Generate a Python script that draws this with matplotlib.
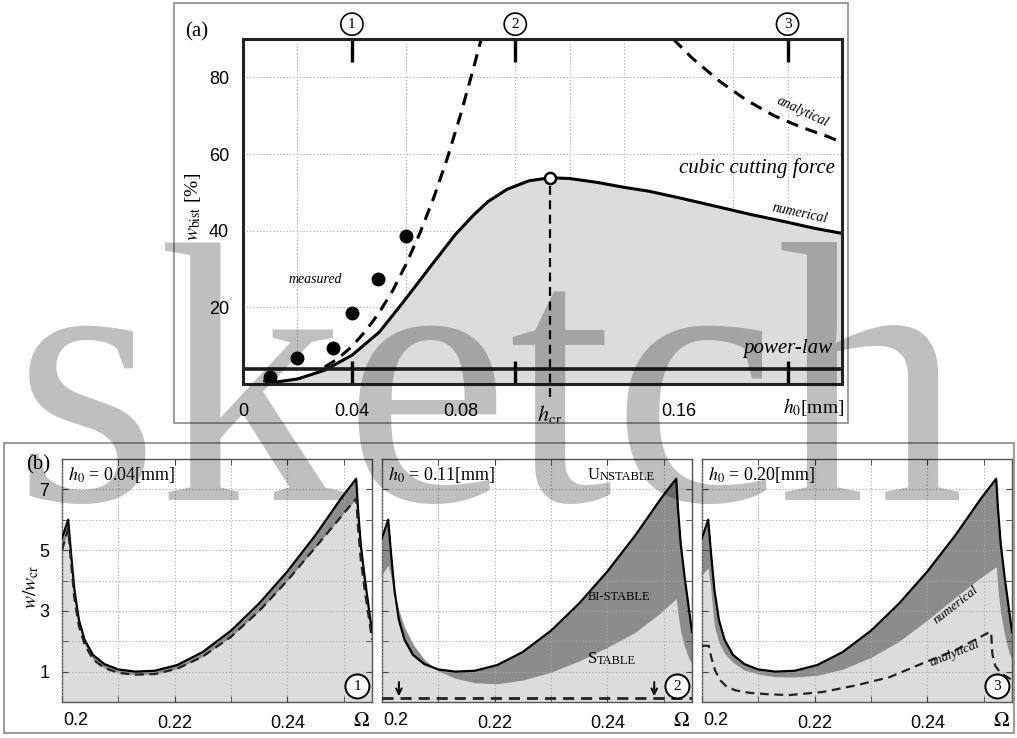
import matplotlib.pyplot as plt
import matplotlib.patches as mpatches
import numpy as np

plt.rcParams['mathtext.fontset'] = 'stix'
SERIF = ['Liberation Serif', 'DejaVu Serif']
SANS = ['Liberation Sans', 'DejaVu Sans']

W, H = 1017, 738

# ---- (a) bistable amplitude vs. chip thickness ----
h_num = [0.008, 0.012, 0.02, 0.03, 0.04, 0.05, 0.059, 0.0687, 0.078, 0.0846, 0.09, 0.097,
         0.105, 0.1127, 0.12, 0.13, 0.14, 0.149, 0.16, 0.174, 0.186, 0.198, 0.21, 0.22]
w_num = [0.8, 0.5, 1.3, 3.6, 7.5, 13.5, 21.5, 30.5, 39.0, 44.0, 47.6, 50.8,
         53.0, 53.8, 53.6, 52.6, 51.3, 50.3, 48.6, 46.3, 44.3, 42.5, 40.6, 39.3]
h_ana_lo = [0.030, 0.035, 0.040, 0.045, 0.050, 0.055, 0.060, 0.065, 0.070, 0.075, 0.080, 0.0845, 0.0875]
w_ana_lo = [4.4, 6.7, 9.8, 13.8, 18.6, 24.4, 31.4, 39.4, 48.5, 58.8, 70.5, 82.0, 90.0]
h_ana_hi = [0.158, 0.165, 0.175, 0.185, 0.195, 0.205, 0.215, 0.22]
w_ana_hi = [90.0, 85.0, 79.0, 74.0, 70.0, 67.0, 64.5, 63.0]
h_meas = [0.01, 0.02, 0.033, 0.04, 0.0496, 0.06]
w_meas = [1.8, 6.7, 9.4, 18.5, 27.5, 38.5]
w_power = 4.0
h_cr, w_cr_peak = 0.1127, 53.8
h_marks = [0.04, 0.10, 0.20]
mark_names = ['1', '2', '3']

# ---- (b) stability charts ----
omega = [0.2000, 0.2011, 0.2016, 0.2022, 0.2030, 0.2040, 0.2055, 0.2075, 0.2100, 0.2130, 0.2165, 0.2205,
         0.2250, 0.2300, 0.2350, 0.2400, 0.2450, 0.2495, 0.2522, 0.2525, 0.2530, 0.2537, 0.2545, 0.2550]
w_upper = [5.4, 6.0, 4.9, 3.7, 2.7, 2.05, 1.55, 1.25, 1.07, 1.0, 1.03, 1.22,
           1.65, 2.35, 3.25, 4.3, 5.5, 6.7, 7.35, 6.4, 5.2, 4.1, 3.0, 2.3]
w_lower_004 = [5.0, 5.7, 4.6, 3.4, 2.5, 1.9, 1.4, 1.12, 0.96, 0.9, 0.92, 1.1,
               1.5, 2.15, 3.0, 4.0, 5.1, 6.1, 6.7, 5.8, 4.7, 3.7, 2.7, 2.05]
w_lower_011 = [4.2, 4.5, 4.1, 3.6, 3.0, 2.45, 1.9, 1.4, 1.02, 0.78, 0.63, 0.6,
               0.72, 0.98, 1.35, 1.8, 2.3, 2.95, 3.4, 2.9, 2.3, 1.8, 1.4, 1.25]
w_lower_020 = [4.2, 4.4, 3.6, 2.5, 1.95, 1.6, 1.3, 1.05, 0.92, 0.83, 0.82, 0.88,
               1.08, 1.47, 2.0, 2.7, 3.45, 4.1, 4.45, 3.7, 2.9, 2.2, 1.6, 1.4]
omega_an_020 = [0.2000, 0.2012, 0.2016, 0.2023, 0.2032, 0.2044, 0.2060, 0.2085, 0.2120, 0.2156,
                0.2214, 0.2274, 0.2333, 0.2391, 0.2451, 0.2510, 0.2513, 0.2515, 0.2520, 0.2530, 0.2548]
w_an_020 = [1.85, 1.85, 1.5, 1.05, 0.72, 0.5, 0.38, 0.3, 0.25, 0.23,
            0.33, 0.55, 0.82, 1.27, 1.72, 2.3, 2.3, 1.6, 1.2, 0.95, 0.75]
omega_an_011 = [0.2000, 0.2550]
w_an_011 = [0.12, 0.12]
panel_titles = ['0.04', '0.11', '0.20']

LIGHT = '#dcdcdc'
DARK = '#8c8c8c'
GRIDC = '#a8a8a8'


def fig_rect(x0, y0, x1, y1):
    return [x0 / W, 1 - y1 / H, (x1 - x0) / W, (y1 - y0) / H]


fig = plt.figure(figsize=(W / 100, H / 100), dpi=100)

# outer frames
for (x0, y0, x1, y1) in [(174, 3, 848, 423), (4, 443, 1014, 733)]:
    fig.patches.append(mpatches.Rectangle((x0 / W, 1 - y1 / H), (x1 - x0) / W, (y1 - y0) / H,
                                          transform=fig.transFigure, fill=False,
                                          ec='#8a8a8a', lw=1.2))

# ================= (a) =================
ax = fig.add_axes(fig_rect(243, 39, 842, 384))
ax.set_xlim(0, 0.22)
ax.set_ylim(0, 90)
ax.fill_between(h_num, w_num, 0, color=LIGHT, lw=0, zorder=1)
ax.plot(h_num, w_num, color='k', lw=2.2, zorder=4)
ax.plot(h_ana_lo, w_ana_lo, color='k', lw=2.2, ls=(0, (4, 2.6)), zorder=4)
ax.plot(h_ana_hi, w_ana_hi, color='k', lw=2.2, ls=(0, (4, 2.6)), zorder=4)
ax.plot(h_meas, w_meas, 'o', color='k', ms=9, zorder=5)
ax.axhline(w_power, color='#1a1a1a', lw=2.6, zorder=4)
ax.plot([h_cr, h_cr], [-3.5, w_cr_peak], color='k', lw=1.6, ls=(0, (4, 2.5)), clip_on=False, zorder=4)
ax.plot([h_cr], [w_cr_peak], 'o', ms=8, mfc='white', mec='k', mew=1.8, zorder=6)
ax.vlines(h_marks, 0, 6, color='k', lw=2.4, zorder=5)
ax.vlines(h_marks, 84, 90, color='k', lw=2.4, zorder=5)
for hx, name in zip(h_marks, mark_names):
    ax.text(hx, 1.043, name, transform=ax.get_xaxis_transform(), ha='center', va='center',
            family=SERIF, fontsize=11,
            bbox=dict(boxstyle='circle,pad=0.3', fc='white', ec='k', lw=1.2))

ax.set_xticks([0, 0.04, 0.08, h_cr, 0.16])
ax.set_xticklabels(['0', '0.04', '0.08', r'$h_{\mathrm{cr}}$', '0.16'])
ax.set_xticks(np.arange(0.02, 0.22, 0.02), minor=True)
ax.set_yticks([20, 40, 60, 80])
ax.tick_params(axis='x', which='major', length=0, pad=14, labelsize=13)
ax.tick_params(axis='x', which='minor', direction='in', length=5, color='#333')
ax.tick_params(axis='y', length=0, pad=10, labelsize=13)
for lab in ax.get_xticklabels() + ax.get_yticklabels():
    lab.set_family(SANS)
ax.get_xticklabels()[3].set_fontsize(16)
ax.grid(which='minor', axis='x', color=GRIDC, lw=0.8, ls=(0, (1, 2)))
ax.grid(which='major', axis='y', color=GRIDC, lw=0.8, ls=(0, (1, 2)))
ax.set_axisbelow(True)
for sp in ax.spines.values():
    sp.set_linewidth(2.2)
    sp.set_color('#222')
    sp.set_zorder(6)

ax.text(0.2095, -0.066, r'$h_0$[mm]', transform=ax.get_xaxis_transform(), ha='center', va='center',
        family=SERIF, fontsize=14)
ax.text(0.2172, 56.4, 'cubic cutting force', ha='right', va='center', family=SERIF,
        style='italic', fontsize=15, zorder=6)
ax.text(0.2165, 9.3, 'power-law', ha='right', va='center', family=SERIF,
        style='italic', fontsize=15, zorder=6)
ax.text(0.2055, 71, 'analytical', ha='center', va='center', family=SERIF,
        style='italic', fontsize=10, rotation=-25, zorder=6)
ax.text(0.2044, 44.6, 'numerical', ha='center', va='center', family=SERIF,
        style='italic', fontsize=10, rotation=-12, zorder=6)
ax.text(0.0264, 27.2, 'measured', ha='center', va='center', family=SERIF,
        style='italic', fontsize=10, zorder=6)

fig.text(197 / W, 1 - 32 / H, '(a)', ha='center', va='center', family=SERIF, fontsize=15)
fig.text(193 / W, 1 - 207 / H, r'$w_{\mathrm{bist}}$ [%]', ha='center', va='center',
         rotation=90, family=SERIF, fontsize=14)

# ================= (b) =================
lowers = [w_lower_004, w_lower_011, w_lower_020]
lefts = [62, 382, 702]
axes_b = []
for k in range(3):
    bx = fig.add_axes(fig_rect(lefts[k], 459, lefts[k] + 310, 702))
    axes_b.append(bx)
    bx.set_xlim(0.2, 0.255)
    bx.set_ylim(0, 8)
    lo = lowers[k]
    bx.fill_between(omega, lo, 0, color=LIGHT, lw=0, zorder=1)
    bx.fill_between(omega, w_upper, lo, color=DARK, lw=0, zorder=2)
    bx.plot(omega, w_upper, color='k', lw=1.6, zorder=4)
    bx.set_xticks([0.22, 0.24])
    bx.set_xticks([0.20, 0.21, 0.23, 0.25], minor=True)
    bx.set_yticks([1, 3, 5, 7])
    bx.set_yticks([2, 4, 6], minor=True)
    if k > 0:
        bx.set_yticklabels([])
    bx.tick_params(which='both', direction='in', length=4, top=True, right=True,
                   labelsize=13, pad=9, color='#444')
    for lab in bx.get_xticklabels() + bx.get_yticklabels():
        lab.set_family(SANS)
    bx.grid(which='both', color=GRIDC, lw=0.8, ls=(0, (1, 2)))
    bx.set_axisbelow(False)
    for sp in bx.spines.values():
        sp.set_linewidth(1.0)
        sp.set_color('#555')
    bx.text(0.003, -0.075, '0.2', transform=bx.transAxes, ha='left', va='center',
            family=SANS, fontsize=13)
    bx.text(0.995, -0.075, r'$\Omega$', transform=bx.transAxes, ha='right', va='center',
            fontsize=15)
    bx.text(0.02, 0.975, r'$h_0$ = ' + panel_titles[k] + '[mm]', transform=bx.transAxes,
            ha='left', va='top', family=SERIF, fontsize=13, zorder=6)
    bx.text(0.953, 0.064, mark_names[k], transform=bx.transAxes, ha='center', va='center',
            family=SERIF, fontsize=11, zorder=7,
            bbox=dict(boxstyle='circle,pad=0.36', fc='white', ec='k', lw=1.4))

# panel 1: analytical coincides with stability boundary
axes_b[0].plot(omega, w_lower_004, color='#222', lw=1.6, ls=(0, (4, 2.5)), zorder=4)

# panel 2
b2 = axes_b[1]
b2.plot(omega_an_011, w_an_011, color='#222', lw=2.0, ls=(0, (4, 2.5)), zorder=4)
for ox in [0.203, 0.2483]:
    b2.annotate('', xy=(ox, 0.1), xytext=(ox, 0.75),
                arrowprops=dict(arrowstyle='->', color='k', lw=1.4), zorder=5)


def small_caps(axx, x, y, first, rest):
    t = axx.text(x, y, first, family=SERIF, fontsize=12, ha='left', va='baseline', zorder=6)
    axx.annotate(rest, xy=(1, 0), xycoords=t, family=SERIF, fontsize=9, ha='left',
                 va='bottom', zorder=6)


small_caps(b2, 0.2365, 7.33, 'U', 'NSTABLE')
b2.text(0.2365, 3.36, 'BI-STABLE', family=SERIF, fontsize=9, ha='left', va='baseline', zorder=6)
small_caps(b2, 0.2365, 1.3, 'S', 'TABLE')

# panel 3
b3 = axes_b[2]
b3.plot(omega_an_020, w_an_020, color='#222', lw=1.6, ls=(0, (4, 2.5)), zorder=4)
b3.text(0.2451, 3.2, 'numerical', family=SERIF, style='italic', fontsize=9.5,
        ha='center', va='center', rotation=38, zorder=6)
b3.text(0.2448, 1.6, 'analytical', family=SERIF, style='italic', fontsize=9.5,
        ha='center', va='center', rotation=22, zorder=6)

fig.text(38 / W, 1 - 465 / H, '(b)', ha='center', va='center', family=SERIF, fontsize=15)
fig.text(31 / W, 1 - 587 / H, r'$w/w_{\mathrm{cr}}$', ha='center', va='center',
         rotation=90, family=SERIF, fontsize=14)

# watermark
fig.text(14 / W, 1 - 500 / H, 'sketch', ha='left', va='baseline', family=SERIF,
         fontsize=268, color='k', alpha=0.25, zorder=20)

fig.savefig('out.png', dpi=100)
